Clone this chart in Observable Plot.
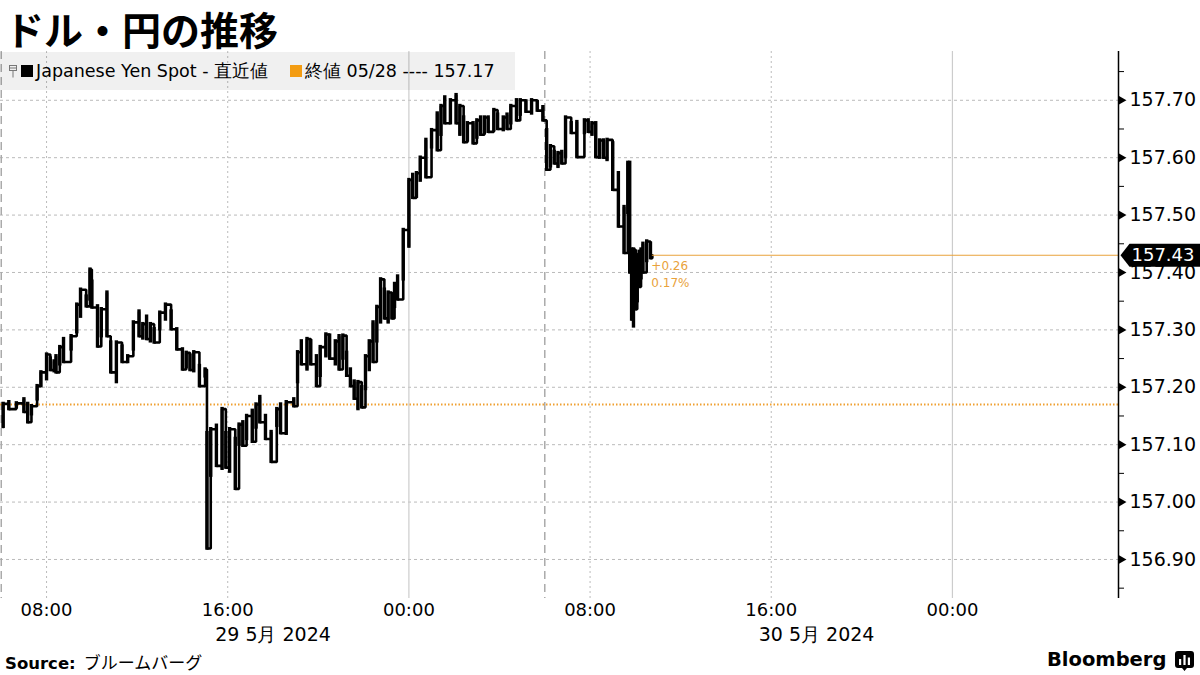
<!DOCTYPE html>
<html>
<head>
<meta charset="utf-8">
<script src="https://cdn.jsdelivr.net/npm/d3@7"></script>
<script src="https://cdn.jsdelivr.net/npm/@observablehq/plot@0.6"></script>
<style>
  html, body { margin: 0; padding: 0; background: #fff; }
  body { width: 1200px; height: 675px; position: relative; overflow: hidden; font-family: "DejaVu Sans", sans-serif; color: #000; }
  #chart { position: absolute; left: 0; top: 0; }
  #title { position: absolute; left: 5px; top: 0px; font-family: "Noto Sans CJK JP", sans-serif; font-weight: bold; font-size: 39px; line-height: 57px; white-space: nowrap; }
  #legend { position: absolute; left: 0; top: 52px; width: 515px; height: 38px; background: rgba(0,0,0,0.06); font-size: 17.5px; white-space: nowrap; }
  #legend .item { position: absolute; top: 0; height: 38px; line-height: 38px; }
  #legend .sq { position: absolute; top: 13px; width: 12px; height: 12px; }
  #footer-src { position: absolute; left: 5px; top: 650px; font-size: 16.5px; line-height: 24px; white-space: nowrap; }
  #footer-src b { font-weight: bold; }
  #footer-src span { font-family: "Noto Sans CJK JP", sans-serif; font-size: 17px; margin-left: 8px; }
  #brand { position: absolute; left: 1047px; top: 647px; font-weight: bold; font-size: 19.5px; line-height: 26px; white-space: nowrap; }
  #brandicon { position: absolute; left: 1175px; top: 651px; }
</style>
</head>
<body>
<div id="chart"></div>
<div id="title">ドル・円の推移</div>
<div id="legend">
  <svg style="position:absolute;left:9px;top:13px" width="8" height="13" viewBox="0 0 8 13">
    <rect x="0.5" y="0.5" width="7" height="5" fill="none" stroke="#777" stroke-width="1"/>
    <line x1="0.5" y1="3" x2="7.5" y2="3" stroke="#777" stroke-width="1"/>
    <line x1="4" y1="5.5" x2="4" y2="12.5" stroke="#777" stroke-width="1"/>
  </svg>
  <div class="sq" style="left:21px;background:#000"></div>
  <div class="item" id="lg1" style="left:36px"></div>
  <div class="sq" style="left:290px;background:#f39c12"></div>
  <div class="item" id="lg2" style="left:305px"></div>
</div>
<div id="footer-src"><b>Source:</b><span>ブルームバーグ</span></div>
<div id="brand">Bloomberg</div>
<svg id="brandicon" width="19" height="20" viewBox="0 0 19 20">
  <path d="M3 0 H16 Q19 0 19 3 V14 Q19 17 16 17 H12 L9.5 20 L7 17 H3 Q0 17 0 14 V3 Q0 0 3 0 Z" fill="#000"/>
  <rect x="4" y="8" width="2.2" height="6" fill="#fff"/>
  <rect x="8.4" y="4" width="2.2" height="10" fill="#fff"/>
  <rect x="12.8" y="6.5" width="2.2" height="7.5" fill="#fff"/>
</svg>
<script>
// ---------------- data ----------------
const seriesName = "Japanese Yen Spot - 直近値";
const prevCloseLabel = "終値 05/28 ---- 157.17";
const prevClose = 157.17;
const lastTime = "30 10:45";
const lastValue = 157.43;
const changeText = "+0.26";
const pctText = "0.17%";

const barTime = [
  "29 06:05","29 06:20","29 06:40","29 07:00","29 07:10","29 07:20","29 07:35","29 07:45","29 08:00","29 08:10",
  "29 08:20","29 08:25","29 08:35","29 08:45","29 09:05","29 09:20","29 09:30","29 09:45","29 09:55","29 10:00",
  "29 10:15","29 10:25","29 10:40","29 10:50","29 11:05","29 11:20","29 11:35","29 11:50","29 12:05","29 12:15",
  "29 12:25","29 12:35","29 12:45","29 13:00","29 13:15","29 13:30","29 13:45","29 14:00","29 14:10","29 14:20",
  "29 14:30","29 14:45","29 15:00","29 15:05","29 15:15","29 15:30","29 15:45","29 15:55","29 16:05","29 16:20",
  "29 16:30","29 16:40","29 16:50","29 17:05","29 17:15","29 17:25","29 17:40","29 17:55","29 18:10","29 18:20",
  "29 18:35","29 18:55","29 19:05","29 19:15","29 19:30","29 19:40","29 19:55","29 20:05","29 20:20","29 20:30",
  "29 20:45","29 20:55","29 21:05","29 21:15","29 21:25","29 21:35","29 21:45","29 21:55","29 22:05","29 22:15",
  "29 22:25","29 22:35","29 22:45","29 22:55","29 23:05","29 23:15","29 23:22","29 23:30","29 23:45","30 00:00",
  "30 00:10","30 00:20","30 00:30","30 00:45","30 01:00","30 01:15","30 01:25","30 01:35","30 01:50","30 02:05",
  "30 02:15","30 02:25","30 02:35","30 02:50","30 03:00","30 03:10","30 03:20","30 03:30","30 03:45","30 03:55",
  "30 04:10","30 04:20","30 04:30","30 04:45","30 04:55","30 05:10","30 05:25","30 05:40","30 05:55","30 06:05",
  "30 06:15","30 06:25","30 06:35","30 06:45","30 06:55","30 07:10","30 07:25","30 07:45","30 07:55","30 08:05",
  "30 08:15","30 08:25","30 08:35","30 08:45","30 09:00","30 09:15","30 09:30","30 09:40","30 09:45","30 09:50",
  "30 09:55","30 10:00","30 10:05","30 10:10","30 10:15","30 10:20","30 10:30","30 10:40"
];
const barHigh = [
  157.171,157.174,157.172,157.179,157.171,157.167,157.202,157.226,157.257,157.250,
  157.245,157.254,157.270,157.284,157.289,157.344,157.370,157.358,157.405,157.384,
  157.341,157.336,157.365,157.278,157.278,157.271,157.254,157.313,157.332,157.310,
  157.323,157.310,157.301,157.330,157.344,157.332,157.301,157.266,157.260,157.255,
  157.261,157.237,157.231,157.120,157.127,157.133,157.162,157.120,157.127,157.110,
  157.135,157.139,157.150,157.159,157.170,157.183,157.150,157.122,157.162,157.170,
  157.174,157.179,157.261,157.280,157.284,157.280,157.254,157.270,157.292,157.290,
  157.280,157.289,157.290,157.260,157.231,157.210,157.209,157.200,157.254,157.280,
  157.313,157.340,157.388,157.370,157.365,157.360,157.380,157.393,157.474,157.561,
  157.570,157.573,157.600,157.631,157.648,157.677,157.690,157.705,157.700,157.709,
  157.690,157.670,157.660,157.660,157.665,157.670,157.670,157.670,157.683,157.675,
  157.670,157.675,157.690,157.700,157.700,157.698,157.700,157.697,157.688,157.648,
  157.620,157.610,157.608,157.610,157.670,157.660,157.662,157.665,157.665,157.660,
  157.660,157.630,157.630,157.631,157.625,157.573,157.514,157.591,157.591,157.440,
  157.440,157.436,157.430,157.436,157.440,157.450,157.454,157.450
];
const barLow = [
  157.131,157.162,157.165,157.157,157.139,157.153,157.179,157.202,157.214,157.230,
  157.228,157.226,157.240,157.244,157.266,157.296,157.323,157.341,157.353,157.339,
  157.271,157.289,157.289,157.226,157.209,157.244,157.244,157.266,157.289,157.285,
  157.284,157.280,157.278,157.301,157.318,157.301,157.266,157.231,157.235,157.230,
  157.228,157.202,157.219,156.919,157.046,157.063,157.058,157.060,157.053,157.023,
  157.100,157.098,157.110,157.105,157.130,157.139,157.110,157.070,157.133,157.120,
  157.119,157.167,157.209,157.240,157.231,157.240,157.202,157.220,157.254,157.250,
  157.240,157.231,157.250,157.220,157.202,157.180,157.162,157.165,157.197,157.230,
  157.244,157.280,157.313,157.320,157.313,157.320,157.340,157.353,157.388,157.445,
  157.530,157.532,157.560,157.566,157.618,157.613,157.640,157.660,157.660,157.660,
  157.640,157.627,157.630,157.625,157.635,157.640,157.643,157.645,157.648,157.650,
  157.648,157.650,157.660,157.665,157.675,157.680,157.677,157.682,157.665,157.579,
  157.585,157.590,157.584,157.590,157.601,157.643,157.601,157.643,157.645,157.640,
  157.601,157.600,157.600,157.596,157.544,157.480,157.434,157.504,157.400,157.318,
  157.306,157.336,157.350,157.375,157.390,157.400,157.420,157.425
];

const yMajorTicks = [156.9, 157.0, 157.1, 157.2, 157.3, 157.4, 157.5, 157.6, 157.7];
const yMinorTicks = [156.85, 156.95, 157.05, 157.15, 157.25, 157.35, 157.45, 157.55, 157.65, 157.75];
const xTickTimes = ["29 08:00","29 16:00","30 00:00","30 08:00","30 16:00","31 00:00"];
const dottedTimes = ["29 08:00","29 16:00","30 08:00","30 16:00"];
const midnightTimes = ["30 00:00","31 00:00"];
const sessionTimes = ["29 06:00","30 06:00"];
const dateLabelTimes = ["29 18:00","30 18:00"];
const dateLabels = ["29 5月 2024","30 5月 2024"];
const xDomain = ["29 05:58","31 07:20"];
const yDomain = [156.832, 157.785];

// ---------------- build ----------------
const parseFull = d3.utcParse("%Y-%m-%d %H:%M");
const parse = s => parseFull("2024-05-" + s);

document.getElementById("lg1").textContent = seriesName;
document.getElementById("lg2").textContent = prevCloseLabel;

const bars = barTime.map((s, i) => ({t: parse(s), hi: barHigh[i], lo: barLow[i]}));
const pts = [];
let prev = null;
bars.forEach(({t, hi, lo}) => {
  const loFirst = prev == null ? true : Math.abs(prev - lo) <= Math.abs(prev - hi);
  const a = loFirst ? lo : hi, b = loFirst ? hi : lo;
  pts.push({t, v: a}, {t, v: b});
  prev = b;
});
const tLast = parse(lastTime);
pts.push({t: tLast, v: lastValue});

const xd = xDomain.map(parse);
const orange = "#f0a030";
const orangeLine = "#e9a23b";

// pentagon price tag pointing left, drawn as a custom dot symbol
const tagSymbol = {
  draw(ctx) {
    ctx.moveTo(0, 0);
    ctx.lineTo(9, -11.5);
    ctx.lineTo(80, -11.5);
    ctx.lineTo(80, 11.5);
    ctx.lineTo(9, 11.5);
    ctx.closePath();
  }
};

const plot = Plot.plot({
  width: 1200,
  height: 660,
  marginTop: 51,
  marginBottom: 62,
  marginLeft: 0,
  marginRight: 82,
  style: { fontFamily: "DejaVu Sans", color: "#000", background: "transparent", overflow: "visible" },
  x: { type: "utc", domain: xd, label: null },
  y: { domain: yDomain, label: null },
  marks: [
    Plot.gridY({ ticks: yMajorTicks, stroke: "#bbb", strokeOpacity: 1, strokeDasharray: "3,3" }),
    Plot.ruleX(dottedTimes.map(parse), { stroke: "#bbb", strokeDasharray: "2,3" }),
    Plot.ruleX(midnightTimes.map(parse), { stroke: "#ccc", strokeWidth: 1.2 }),
    Plot.ruleX(sessionTimes.map(parse), { stroke: "#aaa", strokeWidth: 1.5, strokeDasharray: "8,5" }),
    Plot.ruleY([prevClose], { stroke: orange, strokeWidth: 2, strokeDasharray: "1.5,2" }),
    Plot.line(pts, { x: "t", y: "v", curve: "step-after", stroke: "#000", strokeWidth: 2.6, strokeLinejoin: "miter" }),
    Plot.ruleX(bars, { x: "t", y1: "lo", y2: "hi", stroke: "#000", strokeWidth: 3.4, strokeLinecap: "square" }),
    Plot.ruleY([lastValue], { x1: tLast, x2: xd[1], stroke: orangeLine, strokeWidth: 1.2 }),
    Plot.text([0], { x: () => tLast, y: () => lastValue, text: () => changeText + "\n" + pctText,
      textAnchor: "start", lineAnchor: "top", dy: 3, dx: -1, fill: orangeLine, fontSize: 12, lineHeight: 1.4 }),
    Plot.ruleX([xd[1]], { stroke: "#000", strokeWidth: 1.5 }),
    Plot.axisY({ anchor: "right", ticks: yMinorTicks.concat(yMajorTicks), tickSize: 5, tickFormat: () => "", stroke: "#000", label: null }),
    Plot.dot(yMajorTicks, { y: d => d, frameAnchor: "right", symbol: "triangle", rotate: 90, r: 3.2, fill: "#000", stroke: null, dx: 3 }),
    Plot.axisY({ anchor: "right", ticks: yMajorTicks, tickSize: 0, tickPadding: 11, tickFormat: d3.format(".2f"), fontSize: 19, fill: "#000", label: null }),
    Plot.axisX({ ticks: xTickTimes.map(parse), tickSize: 0, tickPadding: 5, tickFormat: d3.utcFormat("%H:%M"), fontSize: 18, fill: "#000", label: null }),
    Plot.text(dateLabels, { x: (d, i) => parse(dateLabelTimes[i]), text: d => d, frameAnchor: "bottom", dy: 42, lineAnchor: "bottom", fontSize: 19, fill: "#000" }),
    Plot.dot([lastValue], { y: d => d, frameAnchor: "right", symbol: tagSymbol, fill: "#000", stroke: null, dx: 2 }),
    Plot.text([lastValue], { y: d => d, frameAnchor: "right", text: d => d3.format(".2f")(d), textAnchor: "start", dx: 13, fill: "#fff", fontSize: 18 })
  ]
});

document.getElementById("chart").appendChild(plot);
</script>
</body>
</html>
